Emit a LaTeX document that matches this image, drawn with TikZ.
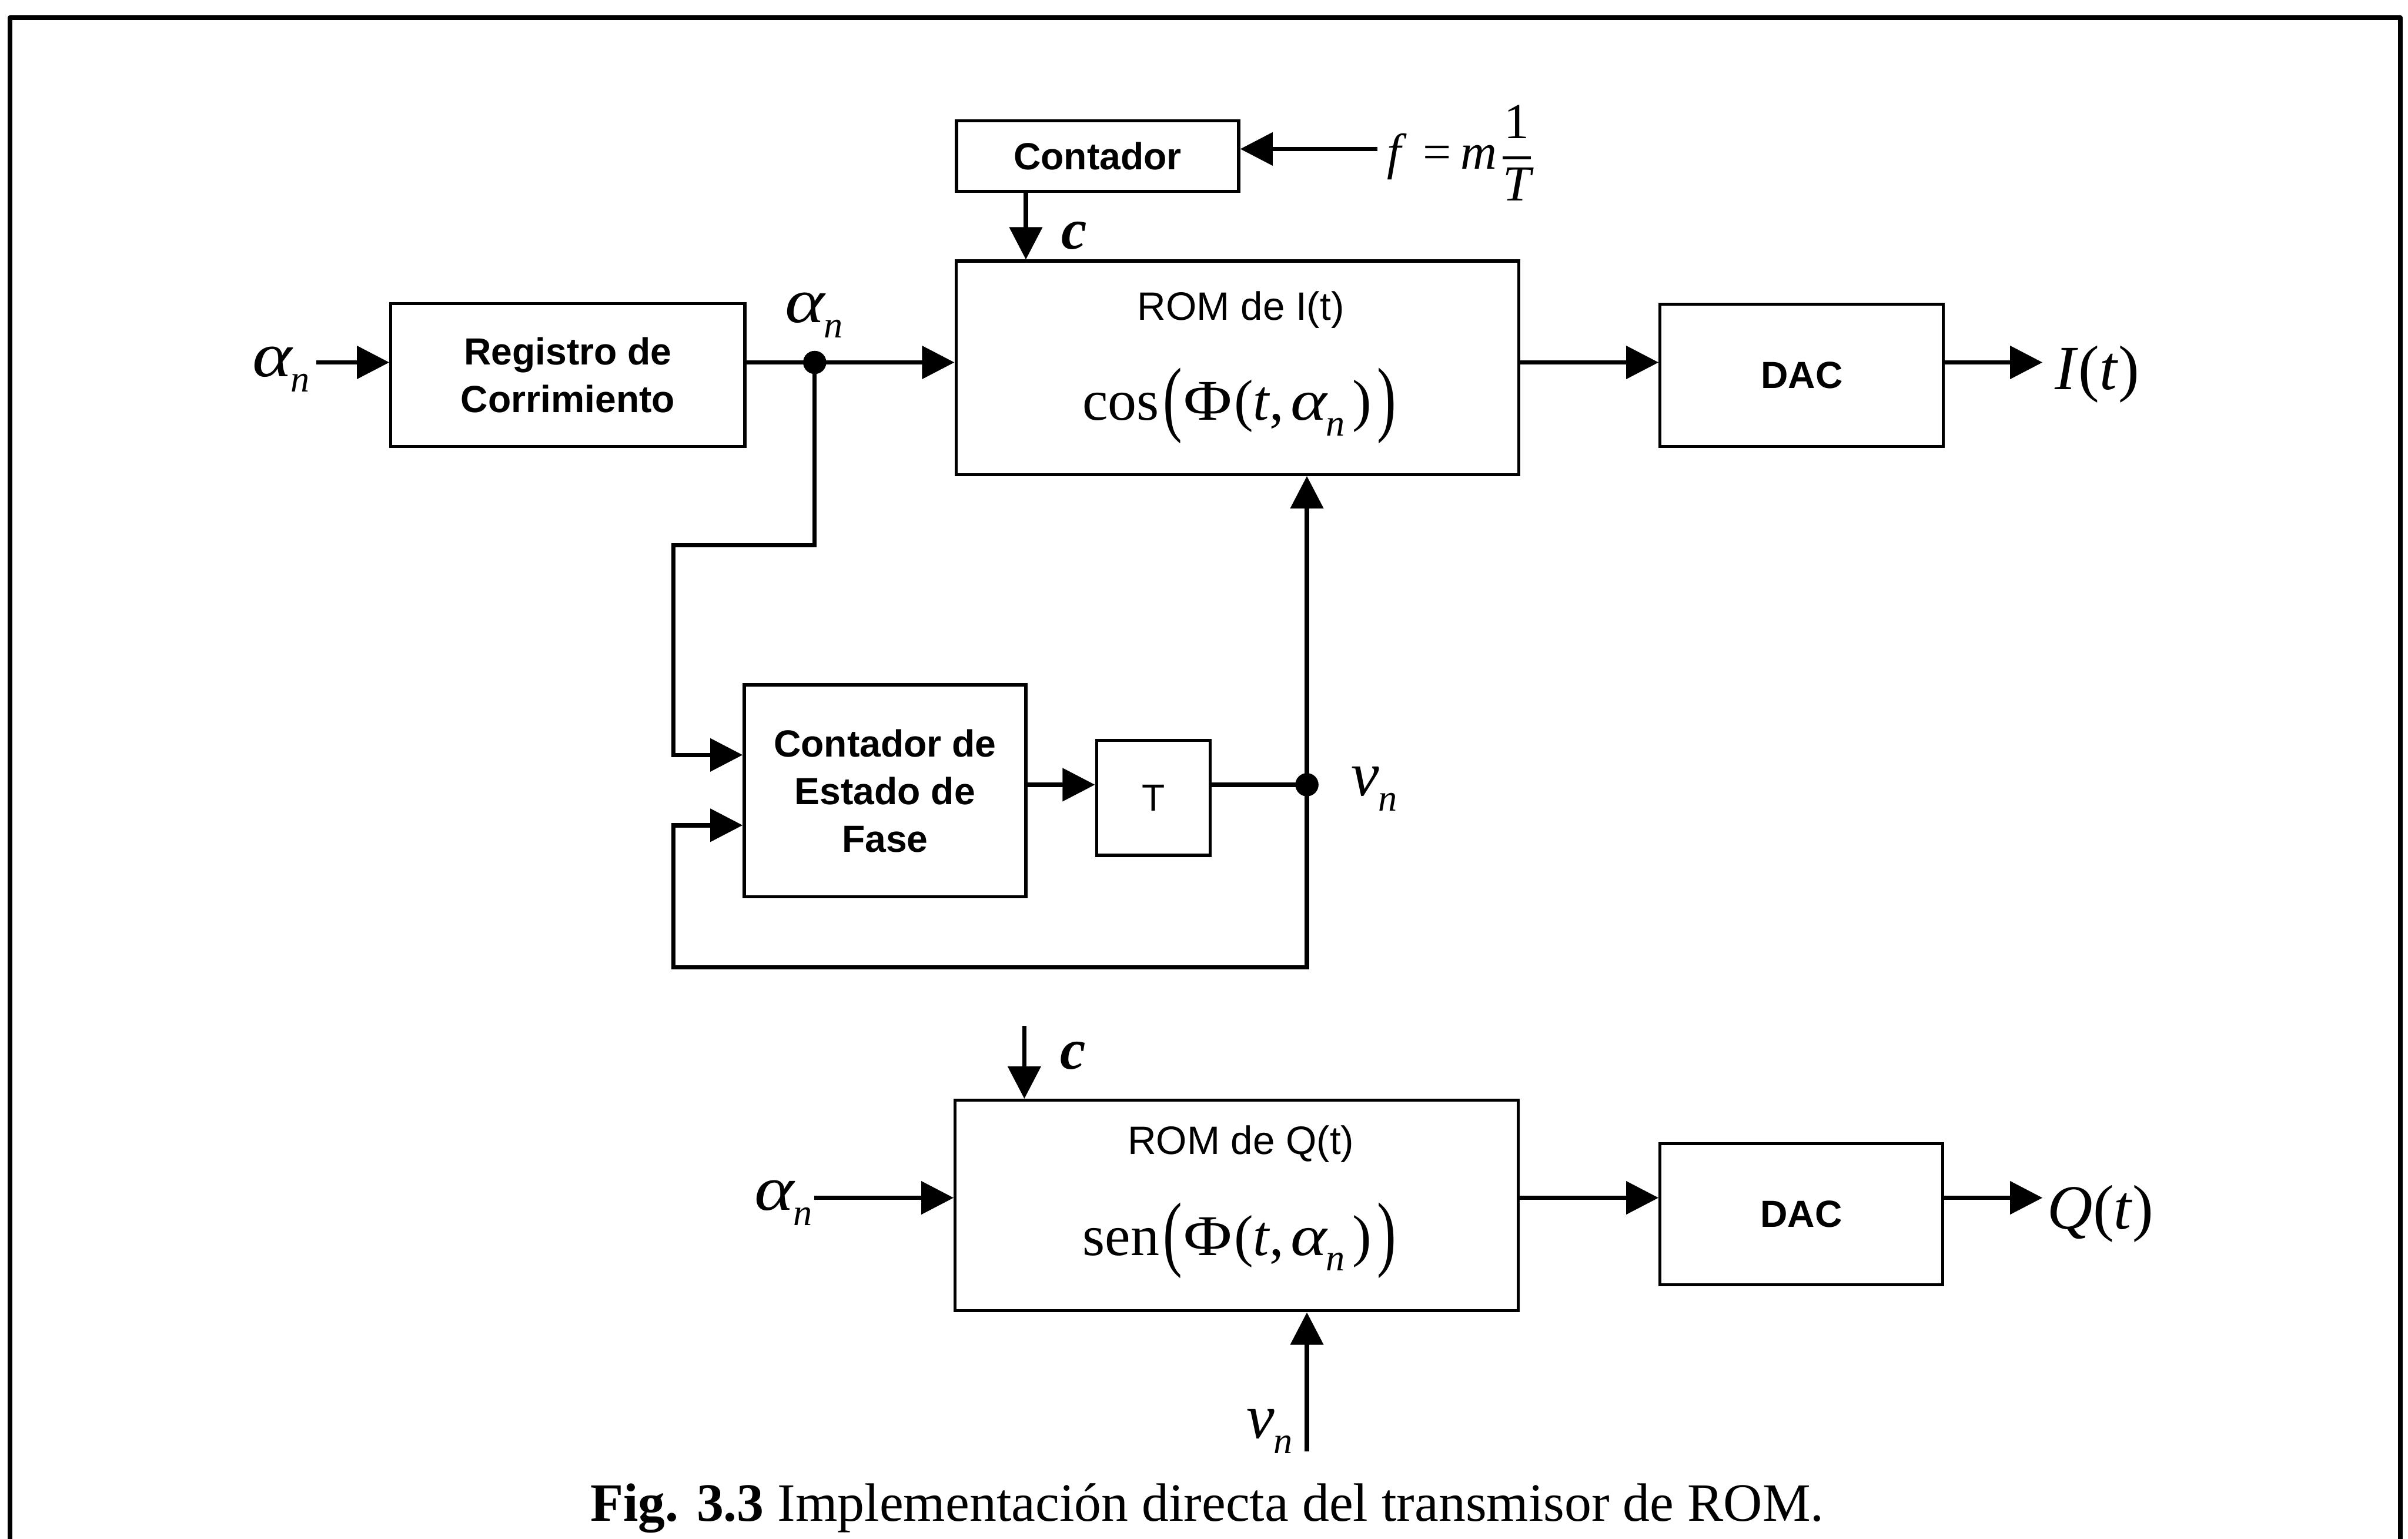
\documentclass[tikz,border=0pt]{standalone}
\usepackage{fontspec}
\usepackage{graphicx}
\usepackage{amsmath}
\usetikzlibrary{arrows.meta,calc}
\setmainfont{Liberation Serif}
\newfontfamily\blkfont{Liberation Sans}
\newfontfamily\symfont{Liberation Serif}

% lowered italic subscript n
\newcommand\subn{\kern-0.5pt\raisebox{-8.5pt}{\fontsize{21}{21}\selectfont\itshape n}}
% enlarged outer parentheses
\newcommand\bigp[1]{\raisebox{-0.1em}{\scalebox{1}[1.45]{#1}}}
% wider Greek letters
\newcommand\galpha{\scalebox{1.2}[1]{α}}
\newcommand\gPhi{\scalebox{1.15}[1]{Φ}}
% ROM contents: cos/sen of the phase
\newcommand\phasefn[1]{#1\kern2pt\bigp{(}\kern1pt\gPhi\kern1pt(\textit{t},\kern4pt\textit{\galpha}\subn\kern4pt)\kern3pt\bigp{)}}

\tikzset{
  blk/.style={draw, line width=1.7pt, inner sep=0pt, align=center,
    font=\blkfont\bfseries\fontsize{21}{26.5}\selectfont},
  blkr/.style={blk, font=\blkfont\fontsize{21}{26.5}\selectfont},
  romlab/.style={inner sep=0pt, font=\blkfont\fontsize{22}{24}\selectfont},
  expr/.style={inner sep=0pt, font=\symfont\fontsize{32}{36}\selectfont},
  sym/.style={inner sep=0pt, font=\symfont\itshape\fontsize{35}{40}\selectfont},
  clab/.style={inner sep=0pt, font=\symfont\bfseries\itshape\fontsize{32}{36}\selectfont},
  flab/.style={inner sep=0pt, font=\symfont\fontsize{28}{32}\selectfont},
  caption/.style={inner sep=0pt, font=\symfont\fontsize{30}{34}\selectfont},
  ln/.style={line width=2.4pt},
  arr/.style={line width=2.4pt, -{Triangle[length=18pt,width=18pt]}},
  dot/.style={circle, fill, inner sep=0pt, minimum size=0.45cm},
  frame/.style={line width=2.8pt, line join=round}
}

\begin{document}
\begin{tikzpicture}[x=0.03cm, y=-0.03cm]
\useasboundingbox (0,0) rectangle (1568,1002);

% outer frame (open at the bottom)
\coordinate (fbl) at (6.5,1010);
\coordinate (ftl) at (6.5,11.5);
\coordinate (ftr) at (1563,11.5);
\coordinate (fbr) at (1563,1010);
\draw[frame] (fbl) -- (ftl) -- (ftr) -- (fbr);

% blocks
\node[blk, minimum width=5.514cm, minimum height=1.374cm] (cnt) at (714.7,101.6) {Contador};
\node[draw, line width=1.7pt, minimum width=10.995cm, minimum height=4.17cm] (romI) at (805.75,239.5) {};
\node[blk, minimum width=6.915cm, minimum height=2.793cm] (reg) at (369.75,244.15) {Registro de\\Corrimiento};
\node[blk, minimum width=5.535cm, minimum height=2.781cm] (dacI) at (1173.25,244.35) {DAC};
\node[blk, minimum width=5.502cm, minimum height=4.14cm, text depth=0pt] (cef) at (576.3,515) {Contador de\\Estado de\\Fase};
\node[blkr, minimum width=2.22cm, minimum height=2.25cm] (tbox) at (751,519.5) {T};
\node[draw, line width=1.7pt, minimum width=10.995cm, minimum height=4.113cm] (romQ) at (805.25,785.05) {};
\node[blk, minimum width=5.52cm, minimum height=2.763cm] (dacQ) at (1173,790.65) {DAC};

% contents of the ROM blocks
\node[romlab, anchor=base] (romIt) at (808,208.6) {ROM de I(t)};
\node[expr, anchor=base] (romIf) at (807,273.7) {\phasefn{cos}};
\node[romlab, anchor=base] (romQt) at (808,751.5) {ROM de Q(t)};
\node[expr, anchor=base] (romQf) at (807,817.3) {\phasefn{sen}};

% signal labels
\node[sym, anchor=base west] (ain) at (164,245) {\galpha\subn};
\node[sym, anchor=base west] (amid) at (511,210) {\galpha\subn};
\node[sym, anchor=base west] (aQ) at (491,788) {\galpha\subn};
\node[sym, anchor=base west] (vmid) at (879.5,518.3) {ν\subn};
\node[sym, anchor=base west] (vQ) at (811.5,936.6) {ν\subn};
\node[clab, anchor=base west] (ctop) at (691,162) {c};
\node[clab, anchor=base west] (cbot) at (690,696) {c};
\node[sym, anchor=base west] (It) at (1338,253.7) {I\textup{(}t\textup{)}};
\node[sym, anchor=base west] (Qt) at (1333,800.3) {Q\textup{(}t\textup{)}};
\node[flab, anchor=base west] (fexp) at (903,110)
  {\textit{f}\kern9pt=\kern5pt\textit{m}\kern2pt$\displaystyle{\text{1}\above 1.6pt\text{\itshape T}}$};

% caption
\node[caption, anchor=base] (cap) at (786,990.6)
  {\textbf{Fig. 3.3} Implementación directa del transmisor de ROM.};

% anchor points of the connectors
\node[dot] (jA) at (530.5,236) {};
\node[dot] (jV) at (851,511) {};
\coordinate (ainS) at (206,236);
\coordinate (fsrc) at (897,97);
\coordinate (cx) at (668,0);
\coordinate (cLtop) at (667,668);
\coordinate (bendA) at (438.6,355);
\coordinate (bendB) at (438.6,630);
\coordinate (cefinA) at ($(cef.north west)!0.333!(cef.south west)$);
\coordinate (cefinB) at ($(cef.north west)!0.660!(cef.south west)$);
\coordinate (Iend) at (1330,236);
\coordinate (rowQ) at (0,780);
\coordinate (aQs) at (530,780);
\coordinate (Qend) at (1330,780);
\coordinate (vQs) at (851,945);

% upper chain
\draw[arr] (ainS) -- (ainS -| reg.west);
\draw[ln] (reg.east |- jA) -- (jA.center);
\draw[arr] (jA.center) -- (jA -| romI.west);
\draw[arr] (fsrc) -- (fsrc -| cnt.east);
\draw[arr] (cnt.south -| cx) -- (romI.north -| cx);
\draw[arr] (romI.east |- jA) -- (dacI.west |- jA);
\draw[arr] (dacI.east |- jA) -- (Iend);

% phase state loop
\draw[arr] (jA.center) -- (jA.center |- bendA) -- (bendA) -- (bendA |- cefinA) -- (cefinA);
\draw[arr] (cef.east |- jV) -- (tbox.west |- jV);
\draw[ln] (tbox.east |- jV) -- (jV.center);
\draw[arr] (jV.center) -- (jV |- romI.south);
\draw[arr] (jV.center) -- (jV.center |- bendB) -- (bendB) -- (bendB |- cefinB) -- (cefinB);

% lower chain
\draw[arr] (cLtop) -- (cLtop |- romQ.north);
\draw[arr] (aQs) -- (aQs -| romQ.west);
\draw[arr] (romQ.east |- rowQ) -- (dacQ.west |- rowQ);
\draw[arr] (dacQ.east |- rowQ) -- (Qend);
\draw[arr] (vQs) -- (vQs |- romQ.south);

% junction dots on top
\node[dot] at (jA) {};
\node[dot] at (jV) {};
\end{tikzpicture}
\end{document}
